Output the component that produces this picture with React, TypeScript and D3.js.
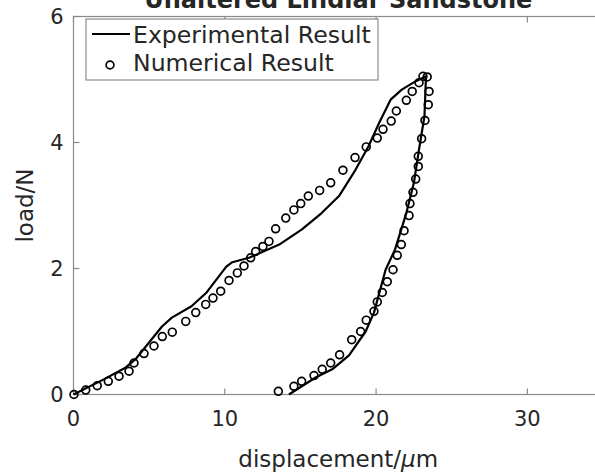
import React from "react";
import * as d3 from "d3";

// ---- data ----
const titleText = "Unaltered Lindlar Sandstone";
const xLabel = "displacement/";
const yLabel = "load/N";
const xTicks = [0, 10, 20, 30];
const yTicks = [0, 2, 4, 6];

// Experimental result (solid line): loading then unloading
const expX = [0, 2.0, 3.4, 4.1, 5.85, 6.5, 7.8, 8.8, 10.1, 10.5, 11.6, 13.6, 15.1, 16.4, 17.55, 18.65, 19.5, 20.2, 20.96, 21.7, 22.6, 23.3,
  23.2, 22.84, 22.5, 22.0, 21.25, 20.63, 19.86, 19.31, 18.21, 17.1, 16.0, 14.24];
const expY = [0, 0.24, 0.42, 0.56, 1.08, 1.22, 1.4, 1.62, 2.03, 2.1, 2.17, 2.38, 2.62, 2.88, 3.15, 3.57, 3.94, 4.31, 4.68, 4.84, 4.97, 5.05,
  4.42, 3.89, 3.36, 2.88, 2.3, 1.98, 1.3, 1.0, 0.62, 0.4, 0.27, 0];

// Numerical result (open circles)
const numX = [0.03, 0.81, 1.57, 2.3, 3.01, 3.67, 4.0, 4.66, 5.32, 5.87, 6.53, 7.42, 8.08, 8.74, 9.22, 9.73, 10.28, 10.83, 11.27, 11.71,
  12.04, 12.52, 12.92, 13.36, 14.03, 14.57, 15.02, 15.52, 16.27, 17.0, 17.81, 18.61, 19.35, 20.08, 20.46, 21.0, 21.34, 22.0, 22.39, 22.84, 23.1, 23.38,
  23.5, 23.45, 23.23, 23.01, 22.79, 22.79, 22.62, 22.44, 22.24, 22.18, 21.85, 21.67, 21.4, 21.12, 20.74, 20.41, 20.08, 19.86, 19.35, 18.98, 18.39, 17.59, 17.0, 16.44, 15.9, 15.08, 14.57, 13.54];
const numY = [0.0, 0.07, 0.14, 0.21, 0.29, 0.37, 0.5, 0.65, 0.77, 0.92, 0.99, 1.16, 1.3, 1.43, 1.53, 1.64, 1.81, 1.93, 2.04, 2.17,
  2.27, 2.35, 2.43, 2.63, 2.8, 2.93, 3.03, 3.15, 3.24, 3.36, 3.56, 3.76, 3.93, 4.07, 4.21, 4.34, 4.5, 4.67, 4.81, 4.95, 5.05, 5.04,
  4.81, 4.6, 4.35, 4.06, 3.78, 3.62, 3.42, 3.21, 3.03, 2.84, 2.6, 2.38, 2.21, 1.98, 1.79, 1.62, 1.47, 1.32, 1.18, 1.0, 0.87, 0.63, 0.5, 0.4, 0.3, 0.21, 0.13, 0.05];

const legendLabels = ["Experimental Result", "Numerical Result"];

export default function App() {
  const W = 595, H = 475;
  const x = d3.scaleLinear().domain([0, 35]).range([73.5, 603]);
  const y = d3.scaleLinear().domain([0, 6]).range([394.5, 16.5]);
  const line = d3.line<number>().x((_, i) => x(expX[i])).y((_, i) => y(expY[i]));
  const axisColor = "#8a8a8a";
  const textColor = "#262626";
  const font = "DejaVu Sans";
  const x0 = x(0), x1 = x(35), y0 = y(0), y1 = y(6);
  const tl = 6;

  return (
    <svg width={W} height={H} style={{ position: "absolute", left: 0, top: 0 }} fontFamily={font}>
      <rect x={0} y={0} width={W} height={H} fill="#fff" />
      {/* title */}
      <text x={(x0 + x1) / 2} y={8} textAnchor="middle" fontSize={24} fontWeight="bold" fill={textColor}>{titleText}</text>
      {/* box */}
      <rect x={x0} y={y1} width={x1 - x0} height={y0 - y1} fill="none" stroke={axisColor} strokeWidth={1.2} />
      {/* x ticks */}
      {xTicks.map((t) => (
        <g key={"xt" + t}>
          <line x1={x(t)} x2={x(t)} y1={y0} y2={y0 - tl} stroke={axisColor} strokeWidth={1.2} />
          <line x1={x(t)} x2={x(t)} y1={y1} y2={y1 + tl} stroke={axisColor} strokeWidth={1.2} />
          <text x={x(t)} y={y0 + 31} textAnchor="middle" fontSize={21} fill={textColor}>{t}</text>
        </g>
      ))}
      {/* y ticks */}
      {yTicks.map((t) => (
        <g key={"yt" + t}>
          <line x1={x0} x2={x0 + tl} y1={y(t)} y2={y(t)} stroke={axisColor} strokeWidth={1.2} />
          <line x1={x1} x2={x1 - tl} y1={y(t)} y2={y(t)} stroke={axisColor} strokeWidth={1.2} />
          <text x={x0 - 10} y={y(t)} dy="0.36em" textAnchor="end" fontSize={21} fill={textColor}>{t}</text>
        </g>
      ))}
      {/* axis labels */}
      <text x={(x0 + x1) / 2} y={467} textAnchor="middle" fontSize={23} fill={textColor}>
        {xLabel}<tspan fontStyle="italic">μ</tspan>m
      </text>
      <text transform={`translate(33,${(y0 + y1) / 2}) rotate(-90)`} textAnchor="middle" fontSize={23} fill={textColor}>{yLabel}</text>
      {/* experimental line */}
      <path d={line(expX) || ""} fill="none" stroke="#000" strokeWidth={2.2} strokeLinejoin="round" />
      {/* numerical markers */}
      {numX.map((v, i) => (
        <circle key={"n" + i} cx={x(v)} cy={y(numY[i])} r={3.9} fill="none" stroke="#000" strokeWidth={1.7} />
      ))}
      {/* legend */}
      <rect x={86} y={19} width={292} height={61} fill="#fff" stroke={axisColor} strokeWidth={1.2} />
      <line x1={92} x2={130} y1={34} y2={34} stroke="#000" strokeWidth={2.2} />
      <text x={133} y={42.5} fontSize={23.6} fill={textColor}>{legendLabels[0]}</text>
      <circle cx={110} cy={65} r={3.9} fill="none" stroke="#000" strokeWidth={1.7} />
      <text x={133} y={71} fontSize={23.6} fill={textColor}>{legendLabels[1]}</text>
    </svg>
  );
}
